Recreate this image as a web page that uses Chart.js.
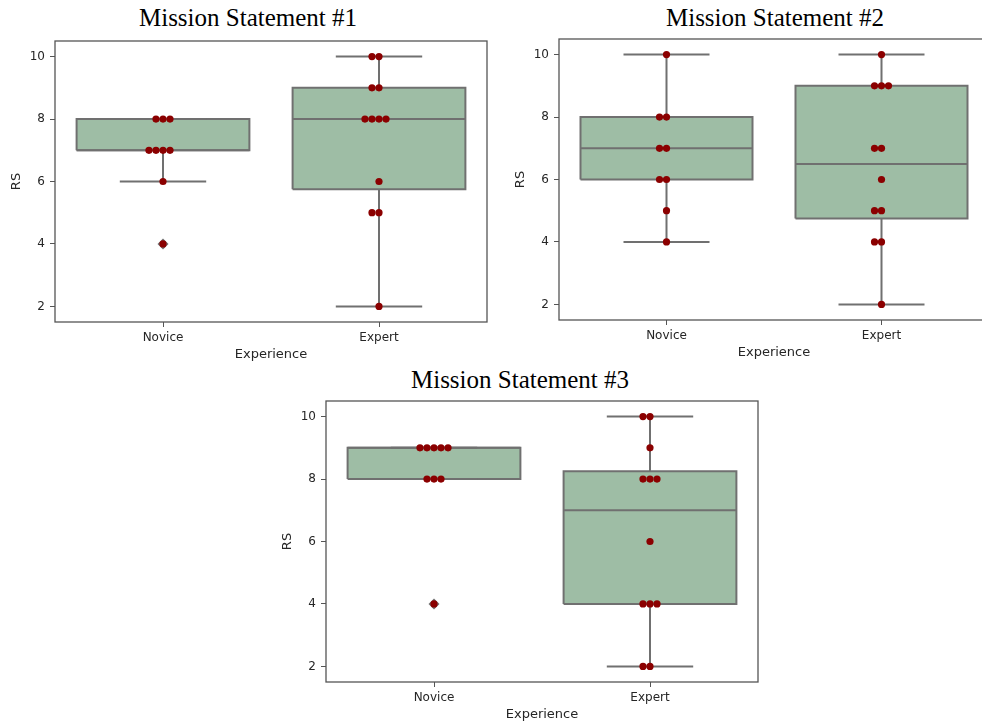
<!DOCTYPE html>
<html>
<head>
<meta charset="utf-8">
<script src="https://cdn.jsdelivr.net/npm/chart.js@4.4.1/dist/chart.umd.min.js"></script>
<style>
  html, body { margin: 0; padding: 0; background: #fff; overflow: hidden; width: 982px; height: 728px; }
  canvas { position: absolute; }
  .title {
    position: absolute; transform: translateX(-50%); white-space: nowrap; line-height: 1;
    font-family: "Liberation Serif", "Times New Roman", serif; font-size: 25px; color: #000;
  }
</style>
</head>
<body>
<div class="title" id="t1" style="left:248px;top:5px"></div>
<div class="title" id="t2" style="left:775px;top:5px"></div>
<div class="title" id="t3" style="left:520px;top:367px"></div>
<canvas id="c1" width="490" height="327" style="left:0;top:39px"></canvas>
<canvas id="c2" width="490" height="327" style="left:504px;top:37px"></canvas>
<canvas id="c3" width="490" height="327" style="left:271px;top:399px"></canvas>
<script>
// Chart values (RS scores per participant)
const CATEGORIES = ['Novice', 'Expert'];
const X_TICKS = [0, 1];
const Y_TICKS = [2, 4, 6, 8, 10];
const TITLES = ['Mission Statement #1', 'Mission Statement #2', 'Mission Statement #3'];
const X_LABEL = 'Experience';
const Y_LABEL = 'RS';

const MS1_NOVICE = [8, 8, 8, 7, 7, 7, 7, 6, 4];
const MS1_EXPERT = [10, 10, 9, 9, 8, 8, 8, 8, 6, 5, 5, 2];
const MS2_NOVICE = [10, 8, 8, 7, 7, 6, 6, 5, 4];
const MS2_EXPERT = [10, 9, 9, 9, 7, 7, 6, 5, 5, 4, 4, 2];
const MS3_NOVICE = [9, 9, 9, 9, 9, 8, 8, 8, 4];
const MS3_EXPERT = [10, 10, 9, 8, 8, 8, 6, 4, 4, 4, 2, 2];

const BOX_FILL = '#9ebda5';
const LINE = '#707070';
const FRAME = '#555555';
const DOT = '#8b0000';
const TEXT = '#262626';
const TICK_FONT = { family: "'DejaVu Sans'", size: 12 };
const TITLE_FONT = { family: "'DejaVu Sans'", size: 13 };

const BOX_HALF = 0.4;
const CAP_HALF = 0.2;
const SWARM_STEP = 0.0325;
const SWARM_ORDER = [0, -1, 1, -2, 2, -3, 3];

// numpy-style linear quantile
function quantile(sorted, p) {
  const pos = (sorted.length - 1) * p;
  const lo = Math.floor(pos);
  const hi = Math.ceil(pos);
  return sorted[lo] + (sorted[hi] - sorted[lo]) * (pos - lo);
}

function boxStats(values) {
  const s = [...values].sort((a, b) => a - b);
  const q1 = quantile(s, 0.25);
  const med = quantile(s, 0.5);
  const q3 = quantile(s, 0.75);
  const iqr = q3 - q1;
  const inside = s.filter(v => v >= q1 - 1.5 * iqr && v <= q3 + 1.5 * iqr);
  return {
    q1, med, q3,
    lo: inside[0],
    hi: inside[inside.length - 1],
    fliers: s.filter(v => v < inside[0] || v > inside[inside.length - 1]),
  };
}

// beeswarm-ish placement: equal values spread sideways around the category
function swarm(values, x) {
  const seen = {};
  return values.map(v => {
    const k = seen[v] || 0;
    seen[v] = k + 1;
    return { x: x + SWARM_ORDER[k] * SWARM_STEP, y: v };
  });
}

const framePlugin = {
  id: 'frame',
  afterDatasetsDraw(chart) {
    const { ctx, chartArea: a } = chart;
    ctx.save();
    ctx.strokeStyle = FRAME;
    ctx.lineWidth = 1.3;
    ctx.strokeRect(a.left, a.top, a.right - a.left, a.bottom - a.top);
    ctx.restore();
  },
};

function lineSet(data, order) {
  return {
    type: 'line', data, order,
    borderColor: LINE, borderWidth: 2, pointRadius: 0,
    fill: false, tension: 0, spanGaps: false,
  };
}

function renderPanel(canvasId, groups, padRight) {
  const datasets = [];

  datasets.push({
    type: 'scatter',
    data: groups.flatMap((g, i) => swarm(g, X_TICKS[i])),
    backgroundColor: DOT, borderWidth: 0, pointRadius: 3.6, order: 0,
  });

  groups.forEach((g, i) => {
    const x = X_TICKS[i];
    const st = boxStats(g);

    if (st.fliers.length) {
      datasets.push({
        type: 'scatter',
        data: st.fliers.map(v => ({ x, y: v })),
        pointStyle: 'rectRot', pointRadius: 5.5,
        backgroundColor: LINE, borderWidth: 0, order: 1,
      });
    }

    // whiskers + caps
    datasets.push(lineSet([
      { x, y: st.q1 }, { x, y: st.lo }, { x, y: null },
      { x: x - CAP_HALF, y: st.lo }, { x: x + CAP_HALF, y: st.lo }, { x, y: null },
      { x, y: st.q3 }, { x, y: st.hi }, { x, y: null },
      { x: x - CAP_HALF, y: st.hi }, { x: x + CAP_HALF, y: st.hi },
    ], 2));

    // median
    datasets.push(lineSet([
      { x: x - BOX_HALF, y: st.med }, { x: x + BOX_HALF, y: st.med },
    ], 3));

    // box
    datasets.push({
      type: 'line', order: 4,
      data: [
        { x: x - BOX_HALF, y: st.q1 }, { x: x + BOX_HALF, y: st.q1 },
        { x: x + BOX_HALF, y: st.q3 }, { x: x - BOX_HALF, y: st.q3 },
        { x: x - BOX_HALF, y: st.q1 },
      ],
      borderColor: LINE, borderWidth: 2, backgroundColor: BOX_FILL,
      pointRadius: 0, tension: 0, fill: 'shape',
    });
  });

  return new Chart(document.getElementById(canvasId), {
    type: 'scatter',
    data: { datasets },
    plugins: [framePlugin],
    options: {
      responsive: false,
      animation: false,
      layout: { autoPadding: false, padding: { top: 2, right: padRight, left: 0, bottom: 0 } },
      plugins: { legend: { display: false }, tooltip: { enabled: false } },
      scales: {
        x: {
          type: 'linear', min: -0.5, max: 1.5,
          afterBuildTicks: ax => { ax.ticks = X_TICKS.map(v => ({ value: v })); },
          afterFit: ax => { ax.height = 44; ax.paddingLeft = 0; ax.paddingRight = 0; },
          grid: { drawOnChartArea: false, drawTicks: true, tickLength: 5, color: FRAME },
          border: { display: false },
          ticks: {
            callback: (v, i) => CATEGORIES[i],
            padding: 4, maxRotation: 0, autoSkip: false, font: TICK_FONT, color: TEXT,
          },
          title: { display: true, text: X_LABEL, font: TITLE_FONT, color: TEXT, padding: { top: 4, bottom: 4 } },
        },
        y: {
          type: 'linear', min: 1.5, max: 10.5,
          afterBuildTicks: ax => { ax.ticks = Y_TICKS.map(v => ({ value: v })); },
          afterFit: ax => { ax.width = 55; ax.paddingTop = 0; ax.paddingBottom = 0; },
          grid: { drawOnChartArea: false, drawTicks: true, tickLength: 5, color: FRAME },
          border: { display: false },
          ticks: { padding: 5, font: TICK_FONT, color: TEXT },
          title: { display: true, text: Y_LABEL, font: TITLE_FONT, color: TEXT, padding: { top: 9, bottom: 0 } },
        },
      },
    },
  });
}

['t1', 't2', 't3'].forEach((id, i) => { document.getElementById(id).textContent = TITLES[i]; });

renderPanel('c1', [MS1_NOVICE, MS1_EXPERT], 3);
renderPanel('c2', [MS2_NOVICE, MS2_EXPERT], 5);
renderPanel('c3', [MS3_NOVICE, MS3_EXPERT], 3);
</script>
</body>
</html>
